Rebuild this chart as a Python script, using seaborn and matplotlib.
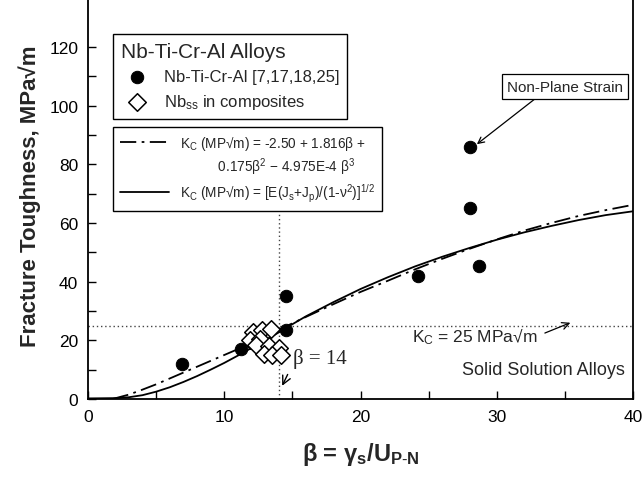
import matplotlib
matplotlib.use("Agg")
import matplotlib.pyplot as plt
import seaborn as sns
from matplotlib.lines import Line2D

# Measured fracture toughness of Nb-Ti-Cr-Al alloys
alloy_beta = [6.9, 11.2, 14.5, 14.5, 24.2, 28.0, 28.0, 28.7]
alloy_kc = [12.0, 17.0, 23.5, 35.0, 42.0, 86.0, 65.0, 45.5]

# Nb solid solution in composites
comp_beta = [12.1, 12.8, 13.4, 11.9, 12.6, 12.3, 13.3, 14.0, 12.9, 13.5, 14.2]
comp_kc = [23.0, 23.5, 23.8, 20.0, 20.5, 18.5, 18.0, 17.5, 15.5, 15.0, 15.0]

# Polynomial fit (dash-dot)
fit_beta = [1.8, 3, 4, 5, 6, 7, 8, 9, 10, 11, 12, 13, 14, 15, 16, 18, 20,
            22, 24, 26, 28, 30, 32, 34, 36, 38, 40]
fit_kc = [0.0, 1.5, 3.2, 5.0, 7.0, 9.0, 11.0, 13.0, 15.0, 17.0, 19.2, 21.4,
          23.6, 25.8, 28.0, 32.3, 36.5, 40.3, 44.2, 47.8, 51.2, 54.4, 57.4,
          60.0, 62.4, 64.4, 66.2]

# Model K_C = [E(Js+Jp)/(1-v^2)]^(1/2) (solid)
model_beta = [0, 2, 3, 4, 5, 6, 7, 8, 9, 10, 11, 12, 13, 14, 15, 16, 18, 20,
              22, 24, 26, 28, 30, 32, 34, 36, 38, 40]
model_kc = [0.2, 0.3, 0.6, 1.3, 2.5, 4.0, 5.8, 7.8, 10.0, 12.3, 14.8, 17.4,
            20.0, 22.7, 25.5, 28.2, 33.0, 37.5, 41.5, 45.2, 48.5, 51.5, 54.3,
            56.8, 59.0, 61.0, 62.7, 64.0]

beta_crit = 14
kc_crit = 25

sns.set_theme(style="ticks")
plt.rcParams["font.family"] = ["Liberation Sans", "DejaVu Sans"]
plt.rcParams["mathtext.fontset"] = "custom"
plt.rcParams["mathtext.rm"] = "Liberation Sans"
plt.rcParams["mathtext.it"] = "Liberation Sans"
plt.rcParams["mathtext.bf"] = "Liberation Sans:bold"

fig = plt.figure(figsize=(6.44, 4.85), dpi=100)
ax = fig.add_axes([88 / 644, 1 - 400 / 485, 545 / 644, 400 / 485])

ax.axhline(kc_crit, color="#444444", ls=(0, (1, 2)), lw=1.0, zorder=1)
ax.vlines(beta_crit, 0, 70, color="#444444", ls=(0, (1, 2)), lw=1.0,
          zorder=1)

sns.lineplot(x=fit_beta, y=fit_kc, ax=ax, color="black", lw=1.3,
             sort=True, legend=False, zorder=2)
fit_line = ax.lines[-1]
fit_line.set_linestyle((0, (9, 3, 1.5, 3)))

sns.lineplot(x=model_beta, y=model_kc, ax=ax, color="black", lw=1.3,
             sort=True, legend=False, zorder=2)
model_line = ax.lines[-1]

sns.scatterplot(x=comp_beta, y=comp_kc, ax=ax, marker="D", s=80,
                facecolor="white", edgecolor="black", linewidth=1.1,
                legend=False, zorder=3)
comp_pts = ax.collections[-1]

sns.scatterplot(x=alloy_beta, y=alloy_kc, ax=ax, marker="o", s=80,
                color="black", edgecolor="black", legend=False, zorder=4)
alloy_pts = ax.collections[-1]

ax.set_xlim(0, 40)
ax.set_ylim(0, 400 / 2.933)
ax.set_xticks([0, 10, 20, 30, 40])
ax.set_xticks([5, 15, 25, 35], minor=True)
ax.set_yticks([0, 20, 40, 60, 80, 100, 120])
ax.set_yticks([10, 30, 50, 70, 90, 110], minor=True)
ax.tick_params(axis="both", which="both", direction="in", top=False,
               right=False, labelsize=12.5, colors="black", pad=7)
ax.tick_params(which="major", length=6, width=1)
ax.tick_params(which="minor", length=6, width=1)
for side in ["left", "bottom", "right"]:
    ax.spines[side].set_linewidth(1.3)
    ax.spines[side].set_color("black")
ax.spines["top"].set_visible(False)

ax.set_xlabel(r"β = γ$_\mathbf{s}$/U$_\mathbf{P\text{-}N}$", fontsize=17,
              fontweight="bold", labelpad=12)
ax.set_ylabel("Fracture Toughness, MPa√m", fontsize=16, fontweight="bold")
ax.yaxis.set_label_coords(-0.087, 0.51)

leg1 = ax.legend(
    handles=[alloy_pts, comp_pts],
    labels=["Nb-Ti-Cr-Al [7,17,18,25]", r"Nb$_{\rm ss}$ in composites"],
    title="Nb-Ti-Cr-Al Alloys", title_fontsize=15, fontsize=12,
    loc="upper left", bbox_to_anchor=(0.046, 0.912), alignment="left",
    frameon=True, fancybox=False, edgecolor="black", framealpha=1,
    borderpad=0.45, labelspacing=0.5, handletextpad=0.6, borderaxespad=0)
leg1.get_frame().set_linewidth(1.0)
ax.add_artist(leg1)

blank = Line2D([], [], color="none")
leg2 = ax.legend(
    handles=[fit_line, blank, model_line],
    labels=[r"K$_C$ (MP√m) = -2.50 + 1.816β +",
            r"          0.175β$^2$ − 4.975E-4 β$^3$",
            r"K$_C$ (MP√m) = [E(J$_s$+J$_p$)/(1-ν$^2$)]$^{1/2}$"],
    fontsize=9.8, loc="upper left", bbox_to_anchor=(0.046, 0.68),
    frameon=True, fancybox=False, edgecolor="black", framealpha=1,
    borderpad=0.5, labelspacing=0.3, handlelength=3.6, handletextpad=0.8,
    borderaxespad=0)
leg2.get_frame().set_linewidth(1.0)

ax.annotate("Non-Plane Strain", xy=(28.3, 86), xytext=(35.0, 106.5),
            fontsize=11, ha="center", va="center",
            bbox=dict(boxstyle="square,pad=0.35", fc="white", ec="black",
                      lw=0.9),
            arrowprops=dict(arrowstyle="->", color="black", lw=0.9,
                            relpos=(0.3, 0.0), shrinkA=0, shrinkB=3))

ax.annotate("β = 14", xy=(14.25, 4.5), xytext=(17.0, 14.0), fontsize=15,
            ha="center", va="center", family="Liberation Serif",
            arrowprops=dict(arrowstyle="->", color="black", lw=1.0,
                            relpos=(0.0, 0.2), shrinkA=3, shrinkB=0))

ax.annotate(r"K$_C$ = 25 MPa√m", xy=(35.4, 26.0), xytext=(28.4, 21.5),
            fontsize=12.5, ha="center", va="center",
            arrowprops=dict(arrowstyle="->", color="black", lw=0.9,
                            relpos=(1.0, 0.5), shrinkA=3, shrinkB=0))

ax.text(33.4, 10.0, "Solid Solution Alloys", fontsize=13, ha="center",
        va="center")

fig.savefig("out.png", dpi=100)
